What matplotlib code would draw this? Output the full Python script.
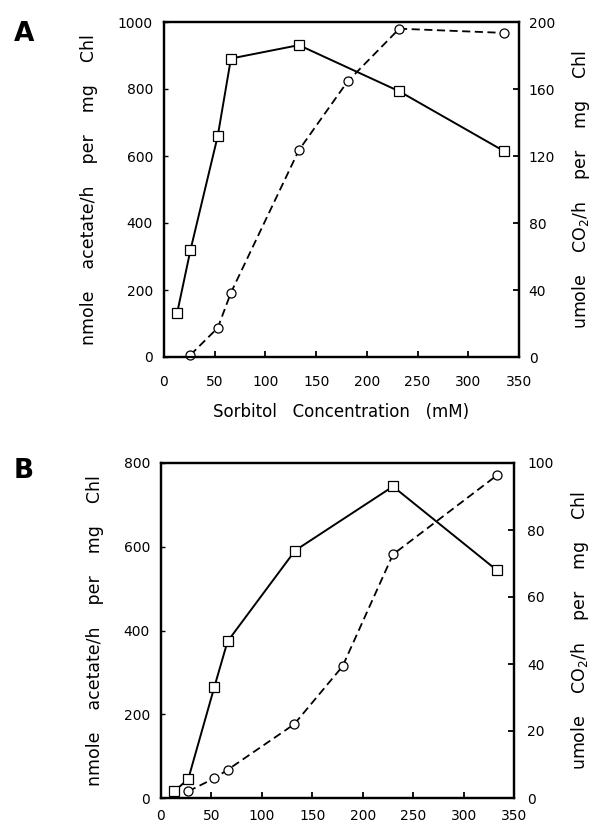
import matplotlib
matplotlib.use("Agg")
import matplotlib.pyplot as plt

# ---- data ----
conc_acetate_A = [13, 26, 53, 66, 133, 232, 335]
acetate_A = [132, 318, 660, 891, 931, 793, 615]
conc_co2_A = [26, 53, 66, 133, 181, 232, 335]
co2_A = [1.2, 17.4, 38.4, 123.5, 164.5, 196, 193.5]

conc_acetate_B = [13, 27, 53, 66, 133, 230, 333]
acetate_B = [16, 45, 266, 374, 591, 744, 544]
conc_co2_B = [27, 53, 66, 132, 180, 230, 333]
co2_B = [2.0, 5.9, 8.4, 22, 39.3, 72.7, 96.3]

x_ticks = [0, 50, 100, 150, 200, 250, 300, 350]
left_ticks_A = [0, 200, 400, 600, 800, 1000]
right_ticks_A = [0, 40, 80, 120, 160, 200]
left_ticks_B = [0, 200, 400, 600, 800]
right_ticks_B = [0, 20, 40, 60, 80, 100]

left_label = "nmole    acetate/h    per    mg    Chl"
right_label = r"umole    CO$_2$/h    per    mg    Chl"
x_label = "Sorbitol   Concentration   (mM)"

plt.rcParams['font.family'] = ['DejaVu Sans']
plt.rcParams['mathtext.fontset'] = 'dejavusans'

W, H = 602, 824
fig = plt.figure(figsize=(W / 100, H / 100), dpi=100)


def panel(rect, cx1, y1, cx2, y2, lt, rt, ymax_l, ymax_r, xpad, rpad, letter, letter_y, xlabel=False):
    ax = fig.add_axes(rect)
    ax2 = ax.twinx()
    ax.set_zorder(ax2.get_zorder() + 1)
    ax.patch.set_visible(False)
    ax.plot(cx1, y1, color='black', lw=1.4, marker='s', ms=7.5,
            mfc='white', mec='black', mew=0.9, zorder=3, clip_on=False)
    ax2.plot(cx2, y2, color='black', lw=1.3, ls=(0, (4.5, 2.5)), marker='o', ms=6.5,
             mfc='white', mec='black', mew=0.9, zorder=3, clip_on=False)
    ax.set_xlim(0, 350)
    ax.set_ylim(0, ymax_l)
    ax2.set_ylim(0, ymax_r)
    ax.set_xticks(x_ticks)
    ax.set_yticks(lt)
    ax2.set_yticks(rt)
    for a in (ax, ax2):
        for s in a.spines.values():
            s.set_linewidth(1.6)
    ax.tick_params(axis='x', direction='in', length=4, width=1.3, pad=xpad, labelsize=10)
    ax.tick_params(axis='y', direction='in', length=3, width=1.0, pad=8, labelsize=10)
    ax2.tick_params(axis='y', direction='in', length=4, width=1.3, pad=rpad, labelsize=10)
    ax.set_ylabel(left_label, fontsize=12.5, labelpad=14)
    ax2.set_ylabel(right_label, fontsize=12.5, labelpad=11)
    if xlabel:
        ax.set_xlabel(x_label, fontsize=12, labelpad=10)
    fig.text(24 / W, 1 - letter_y / H, letter, fontsize=19, fontweight='bold',
             ha='center', va='center')
    return ax, ax2


panel([164 / W, 1 - 357 / H, 355 / W, 335 / H], conc_acetate_A, acetate_A, conc_co2_A, co2_A,
      left_ticks_A, right_ticks_A, 1000, 200, 13, 7, 'A', 34, xlabel=True)
panel([161 / W, 1 - 798 / H, 353 / W, 335 / H], conc_acetate_B, acetate_B, conc_co2_B, co2_B,
      left_ticks_B, right_ticks_B, 800, 100, 8, 9.5, 'B', 471)

fig.savefig("out.png", dpi=100)
